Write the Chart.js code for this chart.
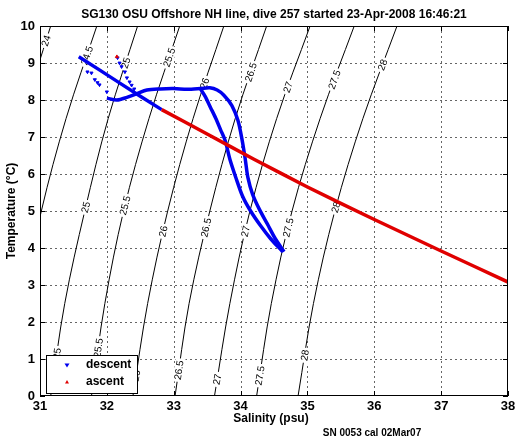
<!DOCTYPE html>
<html>
<head>
<meta charset="utf-8">
<script src="https://cdn.jsdelivr.net/npm/chart.js@4.4.0/dist/chart.umd.min.js"></script>
<style>
  html, body { margin: 0; padding: 0; background: #fff; }
</style>
</head>
<body>
<canvas id="grafico" width="519" height="442"></canvas>
<script>
const titulo = 'SG130 OSU Offshore NH line, dive 257 started 23-Apr-2008 16:46:21';
const tituloX = 'Salinity (psu)';
const tituloY = 'Temperature (\u00B0C)';
const notaCalibracion = 'SN 0053 cal 02Mar07';

const ticksSalinidad = [31, 32, 33, 34, 35, 36, 37, 38];
const ticksTemperatura = [0, 1, 2, 3, 4, 5, 6, 7, 8, 9, 10];

const tempContorno = [0, 2.5, 5, 7.5, 10];
const nivelesSigma = ['24', '24.5', '25', '25.5', '26', '26.5', '27', '27.5', '28'];
const sal24 = [29.93, 30.12, 30.38, 30.73, 31.16];
const sal245 = [30.54, 30.74, 31.02, 31.39, 31.85];
const sal25 = [31.16, 31.37, 31.67, 32.02, 32.46];
const sal255 = [31.77, 31.97, 32.25, 32.63, 33.09];
const sal26 = [32.39, 32.61, 32.91, 33.29, 33.75];
const sal265 = [33.02, 33.23, 33.54, 33.92, 34.39];
const sal27 = [33.61, 33.84, 34.14, 34.54, 35.04];
const sal275 = [34.24, 34.46, 34.77, 35.19, 35.70];
const sal28 = [34.86, 35.09, 35.41, 35.83, 36.34];

// temperaturas donde van las etiquetas de cada isopicna
const etiqT24 = [9.6];
const etiqT245 = [9.2];
const etiqT25 = [9.0, 5.1, 1.15];
const etiqT255 = [9.15, 5.15, 1.3];
const etiqT26 = [8.45, 4.45, 0.55];
const etiqT265 = [8.75, 4.55, 0.7];
const etiqT27 = [8.35, 4.45, 0.45];
const etiqT275 = [8.55, 4.55, 0.55];
const etiqT28 = [8.95, 5.1, 1.1];

// descenso (salinidad, temperatura)
const descensoRecto = [[31.58, 9.17], [31.9, 8.80], [32.2, 8.45], [32.5, 8.10], [32.82, 7.74]];
const descensoExterior = [
  [32.0, 8.05], [32.15, 8.0], [32.3, 8.07], [32.45, 8.17], [32.6, 8.27], [32.8, 8.30],
  [33.0, 8.31], [33.2, 8.29], [33.4, 8.31], [33.54, 8.33], [33.65, 8.27], [33.75, 8.13],
  [33.87, 7.85], [33.96, 7.45], [34.02, 6.95], [34.07, 6.4], [34.11, 5.9], [34.18, 5.45],
  [34.28, 5.05], [34.4, 4.65], [34.52, 4.25], [34.65, 3.9]
];
const descensoInterior = [
  [33.40, 8.30], [33.47, 8.1], [33.55, 7.8], [33.63, 7.5], [33.70, 7.2], [33.77, 6.9],
  [33.84, 6.4], [33.93, 5.9], [34.03, 5.4], [34.15, 5.0], [34.30, 4.6], [34.45, 4.25], [34.63, 3.9]
];
const descensoSuelto = [
  [31.71, 8.76], [31.77, 8.73], [31.82, 8.55], [31.86, 8.47], [31.89, 8.41], [32.0, 8.22],
  [32.16, 9.14], [32.19, 9.0], [32.22, 8.9], [32.27, 8.76], [32.3, 8.6], [32.34, 8.49],
  [32.37, 8.4], [32.41, 8.3]
];

// ascenso
const ascensoLinea = [[32.82, 7.74], [33.5, 7.08], [34.2, 6.40], [35.0, 5.65], [36.0, 4.77], [37.0, 3.92], [38.0, 3.08]];
const ascensoSuelto = [[32.15, 9.17]];

const fuente = '"Liberation Sans", Arial, sans-serif';
const salContornos = [sal24, sal245, sal25, sal255, sal26, sal265, sal27, sal275, sal28];
const etiquetasT = [etiqT24, etiqT245, etiqT25, etiqT255, etiqT26, etiqT265, etiqT27, etiqT275, etiqT28];

const aPuntos = pares => pares.map(p => ({ x: p[0], y: p[1] }));

const datasetsContorno = salContornos.map((sal, i) => ({
  label: 'sigma ' + nivelesSigma[i],
  data: sal.map((s, k) => ({ x: s, y: tempContorno[k] })),
  showLine: true,
  borderColor: '#000',
  borderWidth: 1,
  pointRadius: 0,
  tension: 0.35,
  clip: 0,
  order: 3
}));

const azul = '#0000ee';
const rojo = '#e00000';

const datasets = [
  ...datasetsContorno,
  { label: 'descent', data: aPuntos(descensoRecto), showLine: true, borderColor: azul, borderWidth: 3.5,
    pointRadius: 0, order: 2, clip: 0 },
  { label: 'descent', data: aPuntos(descensoExterior), showLine: true, borderColor: azul, borderWidth: 3.5,
    pointRadius: 0, tension: 0.3, order: 2, clip: 0 },
  { label: 'descent', data: aPuntos(descensoInterior), showLine: true, borderColor: azul, borderWidth: 3.5,
    pointRadius: 0, tension: 0.3, order: 2, clip: 0 },
  { label: 'descent', data: aPuntos(descensoSuelto), showLine: false, backgroundColor: azul, borderColor: azul,
    pointStyle: 'triangle', rotation: 180, pointRadius: 1.8, order: 2, clip: 0 },
  { label: 'ascent', data: aPuntos(ascensoLinea), showLine: true, borderColor: rojo, borderWidth: 3.5,
    pointRadius: 0, tension: 0.2, order: 1, clip: 0 },
  { label: 'ascent', data: aPuntos(ascensoSuelto), showLine: false, backgroundColor: rojo, borderColor: rojo,
    pointStyle: 'triangle', pointRadius: 1.8, order: 1, clip: 0 }
];

function interpolarContorno(sal, t) {
  let k = 0;
  while (k < tempContorno.length - 2 && t > tempContorno[k + 1]) k++;
  const f = (t - tempContorno[k]) / (tempContorno[k + 1] - tempContorno[k]);
  return { s: sal[k] + f * (sal[k + 1] - sal[k]), k: k };
}

function rejilla(ctx, a, x, y) {
  ctx.save();
  ctx.strokeStyle = '#666';
  ctx.lineWidth = 1;
  ctx.setLineDash([2, 3]);
  ticksSalinidad.slice(1, -1).forEach(v => {
    const px = Math.round(x.getPixelForValue(v)) + 0.5;
    ctx.beginPath();
    ctx.moveTo(px, a.top);
    ctx.lineTo(px, a.bottom);
    ctx.stroke();
  });
  ticksTemperatura.slice(1, -1).forEach(v => {
    const py = Math.round(y.getPixelForValue(v)) + 0.5;
    ctx.beginPath();
    ctx.moveTo(a.left, py);
    ctx.lineTo(a.right, py);
    ctx.stroke();
  });
  ctx.restore();
}

const decoracion = {
  id: 'decoracion',
  beforeDatasetsDraw(chart) {
    rejilla(chart.ctx, chart.chartArea, chart.scales.x, chart.scales.y);
  },
  afterDatasetDraw(chart, args) {
    const i = args.index;
    if (i >= salContornos.length) return;
    const { ctx, scales: { x, y } } = chart;
    const sal = salContornos[i];
    ctx.save();
    ctx.font = '10px ' + fuente;
    ctx.textAlign = 'center';
    ctx.textBaseline = 'middle';
    etiquetasT[i].forEach(t => {
      const r = interpolarContorno(sal, t);
      const px = x.getPixelForValue(r.s);
      const py = y.getPixelForValue(t);
      const ang = Math.atan2(
        y.getPixelForValue(tempContorno[r.k + 1]) - y.getPixelForValue(tempContorno[r.k]),
        x.getPixelForValue(sal[r.k + 1]) - x.getPixelForValue(sal[r.k])
      );
      ctx.save();
      ctx.translate(px, py);
      ctx.rotate(ang);
      const w = ctx.measureText(nivelesSigma[i]).width + 4;
      ctx.fillStyle = '#fff';
      ctx.fillRect(-w / 2, -5, w, 10);
      ctx.fillStyle = '#000';
      ctx.fillText(nivelesSigma[i], 0, 0.5);
      ctx.restore();
    });
    ctx.restore();
  },
  afterDraw(chart) {
    const { ctx, chartArea: a, scales: { x, y } } = chart;
    ctx.save();
    // caja y ticks hacia adentro
    ctx.strokeStyle = '#000';
    ctx.lineWidth = 1;
    ctx.setLineDash([]);
    ctx.strokeRect(a.left + 0.5, a.top + 0.5, a.right - a.left - 1, a.bottom - a.top - 1);
    ctx.beginPath();
    ticksSalinidad.forEach(v => {
      const px = Math.round(x.getPixelForValue(v)) + 0.5;
      ctx.moveTo(px, a.bottom); ctx.lineTo(px, a.bottom - 5);
      ctx.moveTo(px, a.top); ctx.lineTo(px, a.top + 5);
    });
    ticksTemperatura.forEach(v => {
      const py = Math.round(y.getPixelForValue(v)) + 0.5;
      ctx.moveTo(a.left, py); ctx.lineTo(a.left + 5, py);
      ctx.moveTo(a.right, py); ctx.lineTo(a.right - 5, py);
    });
    ctx.stroke();

    // leyenda
    ctx.fillStyle = '#fff';
    ctx.fillRect(46, 355, 91, 38);
    ctx.strokeRect(46.5, 355.5, 91, 38);
    ctx.fillStyle = azul;
    ctx.beginPath();
    ctx.moveTo(64.5, 363.5); ctx.lineTo(69.5, 363.5); ctx.lineTo(67, 367.5); ctx.closePath();
    ctx.fill();
    ctx.fillStyle = rojo;
    ctx.beginPath();
    ctx.moveTo(65, 383.5); ctx.lineTo(69, 383.5); ctx.lineTo(67, 380); ctx.closePath();
    ctx.fill();
    ctx.fillStyle = '#000';
    ctx.font = 'bold 12px ' + fuente;
    ctx.textAlign = 'left';
    ctx.textBaseline = 'middle';
    ctx.fillText('descent', 86, 365);
    ctx.fillText('ascent', 86, 382);

    // textos
    ctx.textAlign = 'center';
    ctx.font = 'bold 12px ' + fuente;
    ctx.fillText(titulo, 274, 15);
    ctx.fillText(tituloX, 271, 419);
    ctx.font = 'bold 10px ' + fuente;
    ctx.fillText(notaCalibracion, 372, 433);
    ctx.font = 'bold 12px ' + fuente;
    ctx.translate(12, 211);
    ctx.rotate(-Math.PI / 2);
    ctx.fillText(tituloY, 0, 0);
    ctx.restore();
  }
};

const canvas = document.getElementById('grafico');

const chart = new Chart(canvas, {
  type: 'scatter',
  data: { datasets: datasets },
  options: {
    responsive: false,
    animation: false,
    layout: { padding: { top: 26, right: 11, left: 0, bottom: 0 } },
    plugins: { legend: { display: false }, tooltip: { enabled: false }, title: { display: false } },
    scales: {
      x: {
        type: 'linear', min: 31, max: 38,
        afterFit: s => { s.height = 46; },
        afterBuildTicks: s => { s.ticks = ticksSalinidad.map(v => ({ value: v })); },
        ticks: { color: '#000', font: { family: fuente, size: 13, weight: 'bold' }, padding: 3, maxRotation: 0 },
        grid: { display: false, drawTicks: false },
        border: { display: false }
      },
      y: {
        type: 'linear', min: 0, max: 10,
        afterFit: s => { s.width = 40; },
        afterBuildTicks: s => { s.ticks = ticksTemperatura.map(v => ({ value: v })); },
        ticks: { color: '#000', font: { family: fuente, size: 13, weight: 'bold' }, padding: 5 },
        grid: { display: false, drawTicks: false },
        border: { display: false }
      }
    }
  },
  plugins: [decoracion]
});
</script>
</body>
</html>
